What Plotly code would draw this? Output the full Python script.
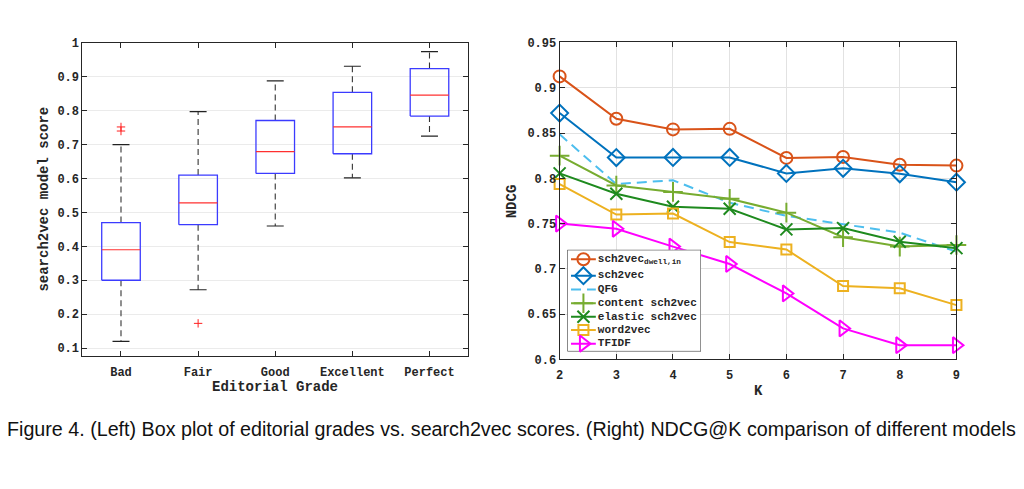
import plotly.graph_objects as go

# ---------------- Left: box plot data ----------------
grades = ["Bad", "Fair", "Good", "Excellent", "Perfect"]
box_lower = [0.120, 0.272, 0.460, 0.602, 0.725]
box_q1 = [0.300, 0.464, 0.615, 0.673, 0.784]
box_median = [0.390, 0.528, 0.679, 0.752, 0.846]
box_q3 = [0.470, 0.610, 0.771, 0.854, 0.924]
box_upper = [0.700, 0.797, 0.888, 0.931, 0.974]
outlier_grade = ["Bad", "Bad", "Fair"]
outlier_value = [0.740, 0.752, 0.173]

# ---------------- Right: NDCG@K data ----------------
K = [2, 3, 4, 5, 6, 7, 8, 9]
ndcg_sch2vec_dwell = [0.9125, 0.8657, 0.8540, 0.8546, 0.8225, 0.8236, 0.8150, 0.8140]
ndcg_sch2vec = [0.8720, 0.8229, 0.8230, 0.8230, 0.8054, 0.8110, 0.8050, 0.7957]
ndcg_qfg = [0.8486, 0.7936, 0.7979, 0.7730, 0.7586, 0.7490, 0.7400, 0.7190]
ndcg_content = [0.8250, 0.7921, 0.7850, 0.7775, 0.7621, 0.7350, 0.7246, 0.7264]
ndcg_elastic = [0.8054, 0.7829, 0.7686, 0.7664, 0.7436, 0.7450, 0.7300, 0.7229]
ndcg_word2vec = [0.7936, 0.7600, 0.7611, 0.7296, 0.7214, 0.6810, 0.6786, 0.6600]
ndcg_tfidf = [0.7500, 0.7443, 0.7246, 0.7054, 0.6729, 0.6343, 0.6157, 0.6157]

series_names = ["sch2vec<sub>dwell,in</sub>", "sch2vec", "QFG", "content sch2vec",
                "elastic sch2vec", "word2vec", "TFIDF"]

caption = ("Figure 4. (Left) Box plot of editorial grades vs. search2vec scores. "
           "(Right) NDCG@K comparison of different models")

MONO = "Liberation Mono, Courier New, monospace"
AX = "#262626"
# the page body keeps an 8px margin on every side: size the figure to fit the window exactly
OFF = 8
W, H = 1024 - 2 * OFF, 489 - 2 * OFF

fig = go.Figure()

# ---- box plot built from the statistics ----
pos = {g: i + 1 for i, g in enumerate(grades)}
hw = 0.25   # half box width
cw = 0.11   # half cap width
bx, by, mx, my, wx, wy, cx, cy = [], [], [], [], [], [], [], []
for i, g in enumerate(grades):
    x = pos[g]
    bx += [x - hw, x + hw, x + hw, x - hw, x - hw, None]
    by += [box_q1[i], box_q1[i], box_q3[i], box_q3[i], box_q1[i], None]
    mx += [x - hw, x + hw, None]
    my += [box_median[i], box_median[i], None]
    wx += [x, x, None, x, x, None]
    wy += [box_q3[i], box_upper[i], None, box_q1[i], box_lower[i], None]
    cx += [x - cw, x + cw, None, x - cw, x + cw, None]
    cy += [box_upper[i], box_upper[i], None, box_lower[i], box_lower[i], None]

fig.add_trace(go.Scatter(x=wx, y=wy, mode="lines", xaxis="x", yaxis="y",
                         line=dict(color="#333333", width=1.1, dash="6px,4px"),
                         showlegend=False, hoverinfo="skip"))
fig.add_trace(go.Scatter(x=cx, y=cy, mode="lines", xaxis="x", yaxis="y",
                         line=dict(color="#222222", width=1.2),
                         showlegend=False, hoverinfo="skip"))
fig.add_trace(go.Scatter(x=bx, y=by, mode="lines", xaxis="x", yaxis="y",
                         line=dict(color="#3b3bff", width=1.3),
                         showlegend=False, hoverinfo="skip"))
fig.add_trace(go.Scatter(x=mx, y=my, mode="lines", xaxis="x", yaxis="y",
                         line=dict(color="#ff3030", width=1.2),
                         showlegend=False, hoverinfo="skip"))
fig.add_trace(go.Scatter(x=[pos[g] for g in outlier_grade], y=outlier_value,
                         mode="markers", xaxis="x", yaxis="y",
                         marker=dict(symbol="cross-thin", size=6,
                                     line=dict(color="#ff2020", width=1)),
                         showlegend=False, hoverinfo="skip"))

# ---- NDCG lines ----
styles = [
    (ndcg_sch2vec_dwell, "#D95319", "circle-open", 12, "solid"),
    (ndcg_sch2vec, "#0072BD", "diamond-open", 13, "solid"),
    (ndcg_qfg, "#4DBEEE", None, 0, "10px,6px"),
    (ndcg_content, "#77AC30", "cross-thin", 14, "solid"),
    (ndcg_elastic, "#1E8A1E", "x-thin", 12, "solid"),
    (ndcg_word2vec, "#EDB120", "square-open", 10, "solid"),
    (ndcg_tfidf, "#FF00FF", "triangle-right-open", 14, "solid"),
]
for name, (vals, col, sym, size, dash) in zip(series_names, styles):
    if sym is None:
        fig.add_trace(go.Scatter(x=K, y=vals, name=name, mode="lines",
                                 xaxis="x2", yaxis="y2", showlegend=False,
                                 line=dict(color=col, width=2, dash=dash),
                                 cliponaxis=False))
    else:
        fig.add_trace(go.Scatter(x=K, y=vals, name=name, mode="lines+markers",
                                 xaxis="x2", yaxis="y2", showlegend=False,
                                 line=dict(color=col, width=2),
                                 marker=dict(symbol=sym, size=size, color=col,
                                             line=dict(color=col, width=2)),
                                 cliponaxis=False))

# ---- compact MATLAB-style legend drawn on an inset pixel-unit axis ----
LX0, LX1, LY0, LY1 = 567.8, 702.5, 251.0, 355.7
row_y = [260.7, 277.7, 292.0, 306.0, 320.0, 333.7, 347.7]
samp_x0, samp_x1, text_x = 571.5, 596.5, 598.5
fig.add_trace(go.Scatter(x=[LX0, LX1, LX1, LX0, LX0], y=[LY0, LY0, LY1, LY1, LY0],
                         mode="lines", fill="toself", fillcolor="white",
                         line=dict(color=AX, width=1), xaxis="x3", yaxis="y3",
                         showlegend=False, hoverinfo="skip", cliponaxis=False))
for ry, (vals, col, sym, size, dash) in zip(row_y, styles):
    fig.add_trace(go.Scatter(x=[samp_x0, samp_x1], y=[ry, ry], mode="lines",
                             line=dict(color=col, width=2, dash=dash),
                             xaxis="x3", yaxis="y3", showlegend=False,
                             hoverinfo="skip", cliponaxis=False))
    if sym is not None:
        fig.add_trace(go.Scatter(x=[(samp_x0 + samp_x1) / 2], y=[ry], mode="markers",
                                 marker=dict(symbol=sym, size=size, color=col,
                                             line=dict(color=col, width=2)),
                                 xaxis="x3", yaxis="y3", showlegend=False,
                                 hoverinfo="skip", cliponaxis=False))
fig.add_trace(go.Scatter(x=[text_x] * len(row_y), y=row_y, mode="text",
                         text=series_names, textposition="middle right",
                         textfont=dict(family=MONO, size=11, color=AX, weight="bold"),
                         xaxis="x3", yaxis="y3", showlegend=False,
                         hoverinfo="skip", cliponaxis=False))


# ---- axes geometry (window pixels -> paper) ----
def px(x):
    return (x - OFF) / W


def py(y):
    return 1 - (y - OFF) / H


tick_font = dict(family=MONO, size=12, color=AX, weight="bold")
common = dict(showline=True, linecolor=AX, linewidth=1, mirror="ticks",
              ticks="inside", ticklen=5, tickcolor=AX, tickfont=tick_font,
              zeroline=False)

fig.update_layout(
    width=W, height=H,
    margin=dict(l=0, r=0, t=0, b=0),
    paper_bgcolor="white", plot_bgcolor="white",
    showlegend=False,
    xaxis=dict(domain=[px(79), px(467.7)], range=[0.5, 5.5],
               tickvals=[pos[g] for g in grades], ticktext=grades,
               showgrid=False, anchor="y", ticklabelstandoff=4, **common),
    yaxis=dict(domain=[py(360.7), py(37.7)], range=[0.076, 1.0],
               tick0=0, dtick=0.1, showgrid=True, gridcolor="#ebebeb",
               anchor="x", **common),
    xaxis2=dict(domain=[px(560), px(960)], range=[2, 9], dtick=1,
                showgrid=True, gridcolor="#e2e2e2", anchor="y2",
                ticklabelstandoff=4, **common),
    yaxis2=dict(domain=[py(364), py(37.3)], range=[0.6, 0.95], dtick=0.05,
                showgrid=True, gridcolor="#e2e2e2", anchor="x2", **common),
    xaxis3=dict(domain=[px(LX0), px(LX1)], range=[LX0, LX1], visible=False,
                anchor="y3", fixedrange=True),
    yaxis3=dict(domain=[py(LY1), py(LY0)], range=[LY1, LY0], visible=False,
                anchor="x3", fixedrange=True),
)

title_font = dict(family=MONO, size=14, color=AX, weight="bold")
fig.add_annotation(text="Editorial Grade", x=px(273.3), y=py(392), xref="paper", yref="paper",
                   showarrow=False, font=title_font, xanchor="center", yanchor="middle")
fig.add_annotation(text="search2vec model score", x=px(40.5), y=py(199), xref="paper", yref="paper",
                   showarrow=False, font=title_font, textangle=-90, xanchor="center", yanchor="middle")
fig.add_annotation(text="K", x=px(760), y=py(396), xref="paper", yref="paper",
                   showarrow=False, font=title_font, xanchor="center", yanchor="middle")
fig.add_annotation(text="NDCG", x=px(512), y=py(201), xref="paper", yref="paper",
                   showarrow=False, font=title_font, textangle=-90, xanchor="center", yanchor="middle")
fig.add_annotation(text=caption, x=px(511), y=py(436), xref="paper", yref="paper",
                   showarrow=False, xanchor="center", yanchor="middle",
                   font=dict(family="Liberation Sans, Arial", size=19.7, color="#111111"))

fig.write_html("out.html")
